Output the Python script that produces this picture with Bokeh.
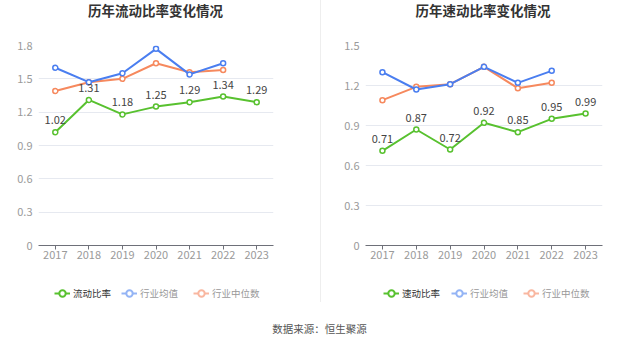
from bokeh.plotting import figure
from bokeh.models import (ColumnDataSource, FactorRange, Range1d, FixedTicker, Label,
                          Legend, LegendItem, LabelSet, Spacer)
from bokeh.layouts import row, column
from bokeh.embed import file_html
from bokeh.resources import INLINE
from bokeh.core.properties import value

years = ["2017", "2018", "2019", "2020", "2021", "2022", "2023"]
industry_years = ["2017", "2018", "2019", "2020", "2021", "2022"]

current_ratio = [1.02, 1.31, 1.18, 1.25, 1.29, 1.34, 1.29]
current_ind_mean = [1.60, 1.47, 1.55, 1.77, 1.54, 1.64]
current_ind_median = [1.39, 1.47, 1.50, 1.64, 1.56, 1.58]

quick_ratio = [0.71, 0.87, 0.72, 0.92, 0.85, 0.95, 0.99]
quick_ind_mean = [1.30, 1.17, 1.21, 1.34, 1.22, 1.31]
quick_ind_median = [1.09, 1.19, 1.21, 1.34, 1.18, 1.22]

left_yticks = [0, 0.3, 0.6, 0.9, 1.2, 1.5, 1.8]
left_ylabels = ["0", "0.3", "0.6", "0.9", "1.2", "1.5", "1.8"]
right_yticks = [0, 0.3, 0.6, 0.9, 1.2, 1.5]
right_ylabels = ["0", "0.3", "0.6", "0.9", "1.2", "1.5"]

FONT = "Noto Sans CJK SC"
GREEN = "#58c12f"
BLUE = "#4a7ef0"
ORANGE = "#f6895e"
BLUE_L = "#94b4f5"
ORANGE_L = "#f9b7a0"


def strip(w, h):
    s = figure(width=w, height=h, x_range=Range1d(0, w), y_range=Range1d(0, h),
               output_backend="svg", toolbar_location=None, x_axis_location=None,
               y_axis_location=None, min_border=0)
    s.outline_line_color = None
    s.xgrid.visible = False
    s.ygrid.visible = False
    s.background_fill_color = "white"
    s.border_fill_color = "white"
    return s


def make_chart(vals, mean, median, yticks, ylabels, width, bl, br):
    p = figure(width=width, height=235, x_range=FactorRange(*years, range_padding=0),
               y_range=Range1d(0, yticks[-1]), output_backend="svg", toolbar_location=None,
               min_border_left=bl, min_border_right=br, min_border_top=10, min_border_bottom=25)
    p.outline_line_color = None
    p.background_fill_color = "white"
    p.border_fill_color = "white"
    p.xgrid.visible = False
    p.ygrid.grid_line_color = "#e6e9f0"
    p.yaxis.ticker = FixedTicker(ticks=yticks)
    p.yaxis.major_label_overrides = dict(zip(yticks, ylabels))
    p.yaxis.axis_line_color = None
    p.yaxis.major_tick_line_color = None
    p.yaxis.minor_tick_line_color = None
    p.yaxis.major_tick_out = 0
    p.yaxis.major_label_standoff = 6
    p.yaxis.major_label_text_color = "#9a9a9a"
    p.yaxis.major_label_text_font_size = "11px"
    p.yaxis.major_label_text_font = FONT
    p.xaxis.axis_line_color = "#6e7079"
    p.xaxis.major_tick_line_color = "#6e7079"
    p.xaxis.major_tick_out = 4
    p.xaxis.major_tick_in = 0
    p.xaxis.major_label_standoff = 1
    p.xaxis.major_label_text_color = "#9a9a9a"
    p.xaxis.major_label_text_font_size = "11px"
    p.xaxis.major_label_text_font = FONT

    src_mean = ColumnDataSource(dict(x=industry_years, y=mean))
    src_med = ColumnDataSource(dict(x=industry_years, y=median))
    src = ColumnDataSource(dict(x=years, y=vals, label=[f"{v:.2f}" for v in vals]))

    for s, c in ((src_med, ORANGE), (src_mean, BLUE), (src, GREEN)):
        p.line("x", "y", source=s, line_color=c, line_width=2)
        p.scatter("x", "y", source=s, size=5, marker="circle", fill_color="white",
                  line_color=c, line_width=1.5)

    p.add_layout(LabelSet(x="x", y="y", text="label", source=src, y_offset=8,
                          text_align="center", text_baseline="bottom",
                          text_font_size="11px", text_color="#444444",
                          text_font=value(FONT)))
    return p


def title_strip(w, cx, title):
    # strip frames are aligned to the chart frame below; cx is relative to that frame
    s = strip(w, 35)
    s.add_layout(Label(x=cx, y=26, x_units="screen", y_units="screen", text=title,
                       text_align="center", text_baseline="middle", text_font_size="13.5px",
                       text_font_style="bold", text_color="#333333", text_font=FONT))
    return s


def legend_strip(w, name, xa, xb):
    s = strip(w, 40)
    icons = []
    for c in (GREEN, BLUE_L, ORANGE_L):
        # off-canvas sample point so the legend has a glyph to draw
        l = s.line(x=[-100, -90], y=[-100, -100], line_color=c, line_width=2)
        m = s.scatter(x=[-100], y=[-100], marker="circle", fill_color="white",
                      line_color=c, line_width=2)
        icons.append([l, m])

    def style(lg, color):
        lg.orientation = "horizontal"
        lg.padding = 0
        lg.margin = 0
        lg.spacing = 15
        lg.border_line_color = None
        lg.background_fill_alpha = 0
        lg.label_text_font_size = "9.5px"
        lg.label_text_font = FONT
        lg.label_text_color = color
        lg.glyph_width = 16
        lg.glyph_height = 18
        lg.label_height = 18
        lg.label_standoff = 3

    la = Legend(items=[LegendItem(label=name, renderers=icons[0])], location=(xa, 8))
    style(la, "#333333")
    lb = Legend(items=[LegendItem(label="行业均值", renderers=icons[1]),
                       LegendItem(label="行业中位数", renderers=icons[2])], location=(xb, 8))
    style(lb, "#999999")
    s.add_layout(la, "center")
    s.add_layout(lb, "center")
    return s


left = make_chart(current_ratio, current_ind_mean, current_ind_median,
                  left_yticks, left_ylabels, 320, 38, 47)
right = make_chart(quick_ratio, quick_ind_mean, quick_ind_median,
                   right_yticks, right_ylabels, 316, 44, 35)

left_col = column(title_strip(320, 117, "历年流动比率变化情况"), left,
                  legend_strip(320, "流动比率", 16, 83))
right_col = column(title_strip(316, 117.5, "历年速动比率变化情况"), right,
                   legend_strip(316, "速动比率", 18, 86))

divider = Spacer(width=1, height=302, styles={"background-color": "#eeeeee"})

bottom = strip(637, 34)
bottom.add_layout(Label(x=319, y=16, x_units="screen", y_units="screen", text="数据来源：恒生聚源",
                        text_align="center", text_baseline="middle", text_font_size="10.5px",
                        text_color="#555555", text_font=FONT))

layout = column(row(left_col, divider, right_col), bottom)
open("out.html", "w").write(file_html(layout, INLINE))
